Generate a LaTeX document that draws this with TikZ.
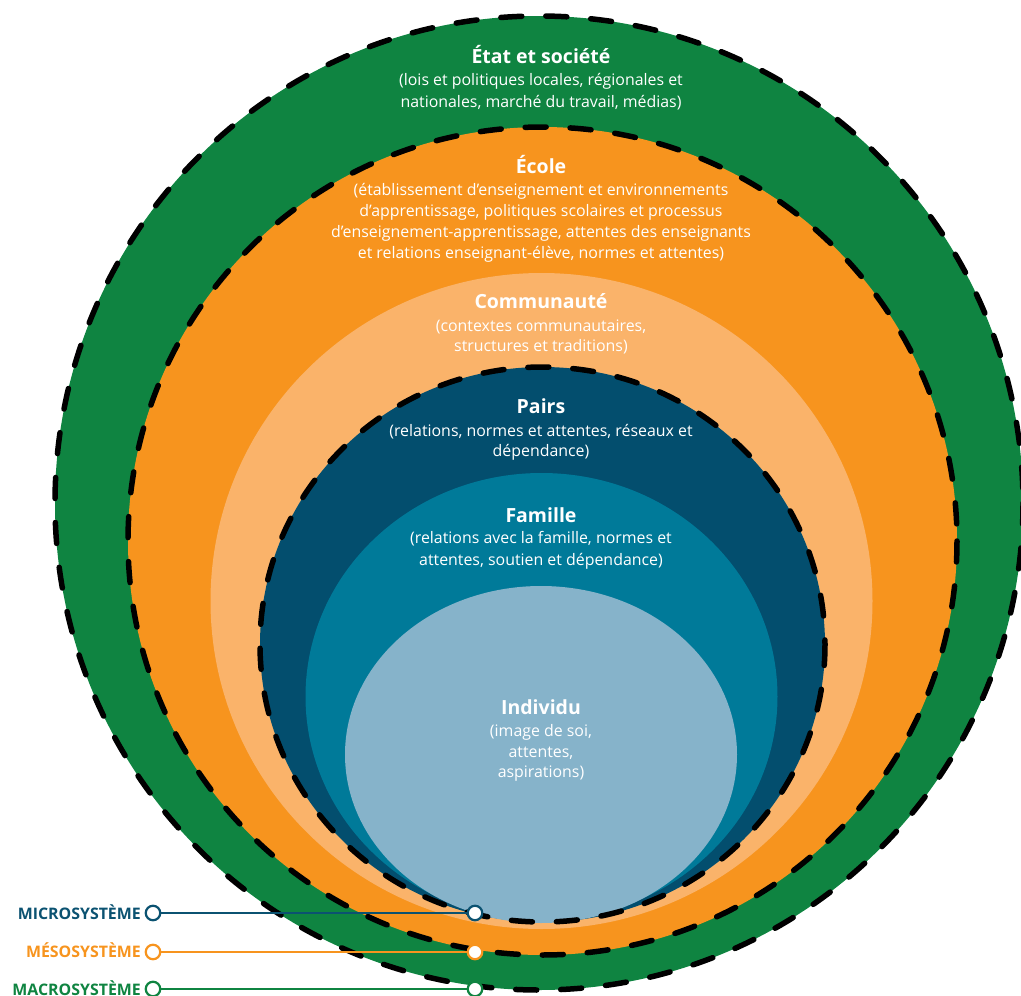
\documentclass[tikz,border=0pt]{standalone}
\usepackage{fontspec}
\setmainfont{Open Sans}
\definecolor{etat}{HTML}{0F8441}
\definecolor{ecole}{HTML}{F7941E}
\definecolor{commu}{HTML}{FAB36A}
\definecolor{pairs}{HTML}{034E6E}
\definecolor{famille}{HTML}{007A99}
\definecolor{indiv}{HTML}{86B3CA}
\definecolor{micro}{HTML}{0B5271}
\begin{document}
\begin{tikzpicture}[x=1pt,y=-1pt,
  ring/.style={draw=black, line width=5.5pt, line cap=round, dash pattern=on 21pt off 24pt},
  head/.style={text=white, font=\fontsize{19.5}{22}\selectfont\bfseries, anchor=base, inner sep=0pt},
  body/.style={text=white, font=\fontsize{15.9}{20}\selectfont, anchor=base, inner sep=0pt},
  lab/.style={font=\fontsize{15.9}{18}\selectfont\bfseries, anchor=base east, inner sep=0pt},
  dot/.style={circle, fill=white, line width=2.2pt, minimum size=14.5pt, inner sep=0pt},
  link/.style={line width=2pt}]
\useasboundingbox (0,0) rectangle (1021,996);
\begin{scope}
\clip (0,0) rectangle (1021,996);
% fills
\fill[etat] (539,503) ellipse [x radius=484, y radius=487];
\fill[ecole] (542.5,541) ellipse [x radius=414.5, y radius=414];
\fill[commu] (541.5,601) ellipse [x radius=331, y radius=328];
\fill[pairs] (542.5,644.5) ellipse [x radius=282.5, y radius=277.5];
\fill[famille] (541.5,696.5) ellipse [x radius=236, y radius=223.5];
\fill[indiv] (541,754.5) ellipse [x radius=196, y radius=168.5];
% dashed outlines
\draw[ring] (539,503) ellipse [x radius=484, y radius=487];
\draw[ring] (542.5,541) ellipse [x radius=414.5, y radius=414];
\draw[ring] (542.5,644.5) ellipse [x radius=282.5, y radius=277.5];
\end{scope}
% texts
\node[head] (tEtat) at (541,63) {État et société};
\node[body] (bEtatA) at (541,85) {(lois et politiques locales, régionales et};
\node[body] (bEtatB) at (541,107) {nationales, marché du travail, médias)};
\node[head] (tEcole) at (541,173) {École};
\node[body] (bEcoleA) at (541,195) {(établissement d’enseignement et environnements};
\node[body] (bEcoleB) at (541,216) {d’apprentissage, politiques scolaires et processus};
\node[body] (bEcoleC) at (541,237) {d’enseignement-apprentissage, attentes des enseignants};
\node[body] (bEcoleD) at (541,258) {et relations enseignant-élève, normes et attentes)};
\node[head] (tCommu) at (541,308) {Communauté};
\node[body] (bCommuA) at (541,331.5) {(contextes communautaires,};
\node[body] (bCommuB) at (541,351.5) {structures et traditions)};
\node[head] (tPairs) at (541,413) {Pairs};
\node[body] (bPairsA) at (541,436.5) {(relations, normes et attentes, réseaux et};
\node[body] (bPairsB) at (541,456.5) {dépendance)};
\node[head] (tFamille) at (541,522) {Famille};
\node[body] (bFamA) at (541,543.5) {(relations avec la famille, normes et};
\node[body] (bFamB) at (541,565) {attentes, soutien et dépendance)};
\node[head] (tIndiv) at (541,714) {Individu};
\node[body] (bIndA) at (541,736.5) {(image de soi,};
\node[body] (bIndB) at (541,757) {attentes,};
\node[body] (bIndC) at (541,777.5) {aspirations)};
% connectors
\begin{scope}
\clip (0,0) rectangle (1021,996);
\node[dot, draw=micro] (microL) at (153,913) {};
\node[dot, draw=micro] (microR) at (475,913) {};
\draw[link, micro] (microL) -- (microR);
\node[lab, text=micro] (microT) at (141,919) {MICROSYSTÈME};
\node[dot, draw=ecole] (mesoL) at (153,952) {};
\node[dot, draw=ecole] (mesoR) at (475,952) {};
\draw[link, ecole] (mesoL) -- (mesoR);
\node[lab, text=ecole] (mesoT) at (141,957.5) {MÉSOSYSTÈME};
\node[dot, draw=etat] (macroL) at (153,989) {};
\node[dot, draw=etat] (macroR) at (475,989) {};
\draw[link, etat] (macroL) -- (macroR);
\node[lab, text=etat] (macroT) at (141,995) {MACROSYSTÈME};
\end{scope}
\end{tikzpicture}
\end{document}
